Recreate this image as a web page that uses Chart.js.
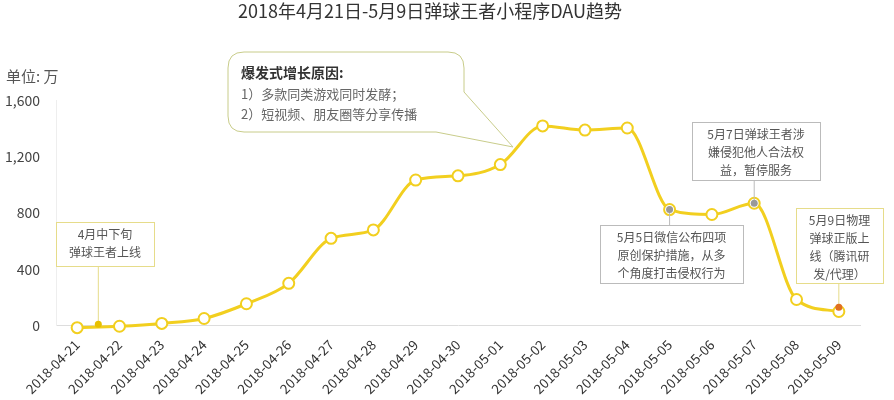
<!DOCTYPE html><html><head><meta charset="utf-8"><script src="https://cdn.jsdelivr.net/npm/chart.js@4"></script>
<style>body{margin:0;background:#fff}#w{width:894px;height:400px;position:relative}</style></head><body><div id="w"><canvas id="c"></canvas></div>
<script>
const categories=['2018-04-21','2018-04-22','2018-04-23','2018-04-24','2018-04-25','2018-04-26','2018-04-27','2018-04-28','2018-04-29','2018-04-30','2018-05-01','2018-05-02','2018-05-03','2018-05-04','2018-05-05','2018-05-06','2018-05-07','2018-05-08','2018-05-09'];
const dau=[-15,-5,15,50,155,300,620,680,1035,1065,1145,1420,1390,1405,825,790,870,185,100];
const yTicks=[0,400,800,1200,1600];
const F='"Noto Sans CJK SC","Noto Sans",sans-serif';
const notes=[
 {i:0,x:56,y:222,w:98,h:44,lines:['4月中下旬','弹球王者上线'],border:'#e6dc8a',dot:'#e8c000',at:0.5,yv:10,from:'bottom'},
 {i:14,x:600,y:225,w:143,h:58,lines:['5月5日微信公布四项','原创保护措施，从多','个角度打击侵权行为'],border:'#bbb',dot:'#999',from:'top'},
 {i:16,x:692,y:122,w:128,h:58,lines:['5月7日弹球王者涉','嫌侵犯他人合法权','益，暂停服务'],border:'#bbb',dot:'#999',from:'bottom'},
 {i:18,x:796,y:208,w:87,h:75,lines:['5月9日物理','弹球正版上','线（腾讯研','发/代理）'],border:'#e6dc8a',dot:'#e07020',yv:130,from:'bottom'}
];
const ann={id:'ann',afterDatasetsDraw(ch){
 const c=ch.ctx,xs=ch.scales.x,ys=ch.scales.y;
 c.save();
 c.font='15px '+F;c.fillStyle='#555';c.textAlign='left';c.fillText('单位: 万',6,82);
 notes.forEach(n=>{
  const px=xs.getPixelForValue(n.i+(n.at||0)),py=ys.getPixelForValue(n.yv!==undefined?n.yv:dau[n.i]);
  c.strokeStyle=n.border;c.lineWidth=1;
  c.beginPath();c.moveTo(px,py);c.lineTo(px,n.from==='top'?n.y:n.y+n.h);c.stroke();
  c.fillStyle='#fff';c.fillRect(n.x,n.y,n.w,n.h);c.strokeRect(n.x+.5,n.y+.5,n.w,n.h);
  c.fillStyle=n.dot;c.beginPath();c.arc(px,py,3.5,0,7);c.fill();
  c.fillStyle='#555';c.font='12px '+F;c.textAlign='center';
  n.lines.forEach((l,k)=>c.fillText(l,n.x+n.w/2,n.y+17+k*18));
 });
 const bx=228,by=52,bw=236,bh=80,r=16;
 const tx=xs.getPixelForValue(10.3),ty=ys.getPixelForValue(1270);
 c.strokeStyle='#c8cc8a';c.fillStyle='#fff';c.lineWidth=1;
 c.beginPath();c.moveTo(bx+r,by);c.lineTo(bx+bw-r,by);c.quadraticCurveTo(bx+bw,by,bx+bw,by+r);
 c.lineTo(bx+bw,by+bh-40);c.lineTo(tx,ty);c.lineTo(bx+bw-28,by+bh);
 c.lineTo(bx+r,by+bh);c.quadraticCurveTo(bx,by+bh,bx,by+bh-r);c.lineTo(bx,by+r);c.quadraticCurveTo(bx,by,bx+r,by);
 c.closePath();c.fill();c.stroke();
 c.textAlign='left';c.fillStyle='#333';c.font='bold 14px '+F;c.fillText('爆发式增长原因:',241,78);
 c.fillStyle='#666';c.font='13px '+F;c.fillText('1）多款同类游戏同时发酵；',241,99);c.fillText('2）短视频、朋友圈等分享传播',241,119);
 c.restore();
}};
new Chart(document.getElementById('c'),{type:'line',
 data:{labels:categories,datasets:[{data:dau,clip:false,borderColor:'#f2cf1f',borderWidth:3,tension:0.4,cubicInterpolationMode:'monotone',pointRadius:5.5,pointBorderWidth:2,pointBackgroundColor:'#fff',pointBorderColor:'#f2cf1f'}]},
 options:{responsive:true,maintainAspectRatio:false,animation:false,
  layout:{padding:{top:0,right:34,left:0,bottom:0}},
  plugins:{legend:{display:false},tooltip:{enabled:false},
   title:{display:true,text:'2018年4月21日-5月9日弹球王者小程序DAU趋势',color:'#333',font:{family:F,size:18,weight:'normal'},padding:{top:0,bottom:79}}},
  scales:{x:{offset:true,grid:{display:false},border:{color:'#ddd'},ticks:{color:'#333',font:{family:F,size:13.5},maxRotation:45,minRotation:45,autoSkip:false}},
   y:{min:0,max:1600,afterBuildTicks(s){s.ticks=yTicks.map(v=>({value:v}))},afterFit(s){s.width=56},grid:{display:false},border:{display:true,color:'#eee'},ticks:{color:'#444',font:{family:F,size:14},padding:8}}}},
 plugins:[ann]});
</script></body></html>
